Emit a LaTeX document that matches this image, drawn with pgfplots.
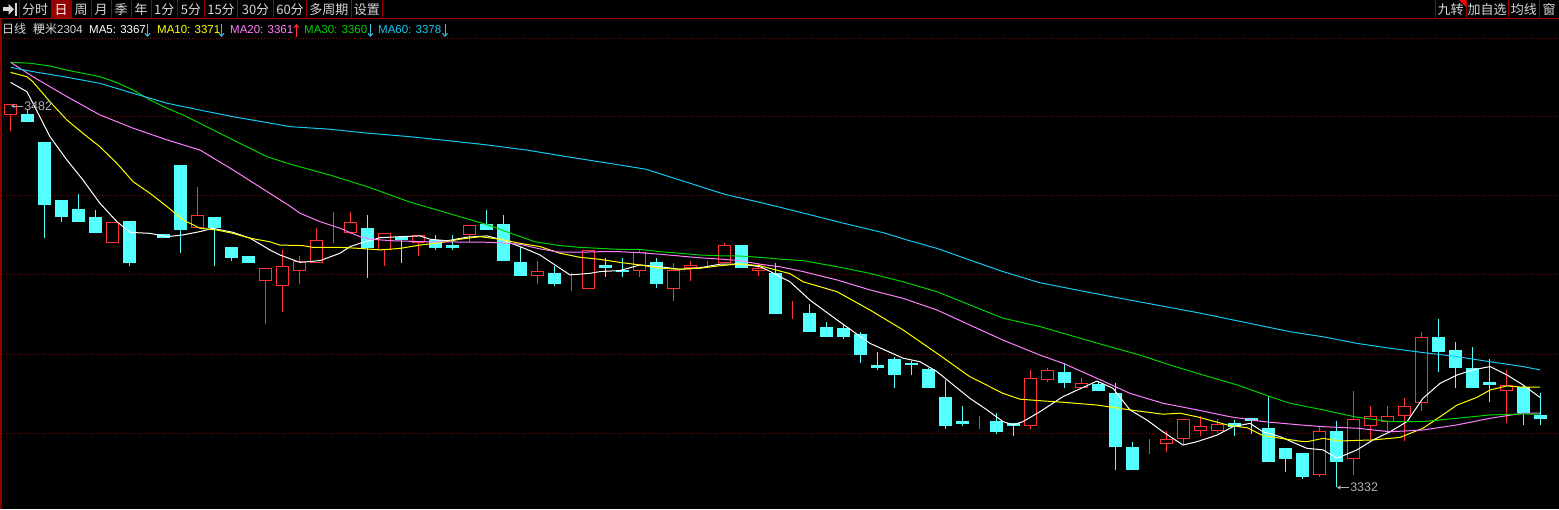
\documentclass[border=0pt]{standalone}
\usepackage{pgfplots}
\pgfplotsset{compat=1.18}
\usepackage{pgfplotstable}
\usetikzlibrary{arrows.meta}
\usepackage{fontspec}
\setmainfont{Liberation Sans}
\newfontfamily\cjk{Noto Sans CJK SC}
\definecolor{upred}{RGB}{255,50,50}
\definecolor{dncyan}{RGB}{84,255,255}
\definecolor{ma5c}{RGB}{255,255,255}
\definecolor{ma10c}{RGB}{255,255,0}
\definecolor{ma20c}{RGB}{255,128,255}
\definecolor{ma30c}{RGB}{0,210,0}
\definecolor{ma60c}{RGB}{20,200,240}
\definecolor{gridred}{RGB}{140,0,0}
\definecolor{btnred}{RGB}{150,0,0}
\definecolor{uigray}{RGB}{215,215,215}
\definecolor{arrowblue}{RGB}{60,190,230}
\definecolor{labgray}{RGB}{175,175,185}

% candles: index, open, high, low, close
\pgfplotstableread{
x open high low close
0 3478.3 3482.0 3471.9 3482.0
6 3428.1 3436.0 3428.1 3436.0
8 3434.8 3434.8 3434.8 3434.8
11 3433.8 3449.8 3433.8 3438.8
15 3413.2 3418.0 3396.1 3418.0
16 3411.1 3425.0 3400.9 3418.7
17 3417.1 3422.7 3411.8 3420.6
18 3420.2 3433.6 3420.2 3428.9
19 3429.5 3439.9 3427.9 3429.5
20 3432.0 3439.9 3431.2 3436.0
22 3425.1 3431.6 3418.9 3431.6
24 3427.9 3430.8 3422.8 3430.8
27 3431.1 3434.8 3428.1 3434.8
31 3415.0 3420.8 3411.8 3416.7
33 3411.6 3415.9 3409.1 3411.6
34 3410.0 3424.8 3410.0 3424.8
37 3416.9 3425.1 3414.4 3423.9
39 3410.0 3420.0 3405.2 3416.9
40 3418.1 3420.9 3413.0 3418.8
41 3420.8 3420.8 3418.1 3420.8
42 3420.1 3427.8 3420.1 3426.9
44 3416.9 3420.0 3415.0 3418.0
46 3400.6 3405.1 3398.1 3400.6
57 3356.6 3359.9 3354.9 3356.6
60 3356.3 3378.0 3354.9 3374.6
61 3374.2 3378.6 3373.1 3377.8
63 3371.0 3374.7 3371.0 3372.7
67 3345.7 3350.9 3345.1 3345.7
68 3349.0 3354.0 3345.9 3350.8
69 3351.1 3358.7 3348.5 3358.7
70 3354.3 3359.8 3352.2 3355.9
71 3354.3 3358.7 3353.2 3356.6
77 3336.9 3355.7 3336.1 3353.9
79 3343.3 3369.7 3336.9 3358.6
80 3356.3 3363.7 3350.8 3359.6
81 3357.9 3363.7 3354.0 3359.6
82 3360.2 3366.9 3350.0 3363.6
83 3365.3 3392.8 3362.0 3390.8
88 3370.0 3377.8 3357.0 3372.0
}\uptable

\pgfplotstableread{
x open high low close
1 3478.1 3480.0 3475.7 3475.7
2 3467.1 3467.1 3429.9 3442.9
3 3444.7 3444.7 3436.2 3438.1
4 3440.8 3447.1 3436.2 3436.2
5 3438.0 3440.8 3431.9 3431.9
7 3436.1 3436.1 3418.9 3420.1
9 3431.0 3431.0 3429.9 3429.9
10 3458.1 3458.1 3424.0 3433.0
12 3438.0 3438.0 3418.9 3433.8
13 3425.9 3425.9 3420.9 3422.1
14 3422.7 3422.7 3420.1 3420.1
21 3433.7 3438.8 3414.2 3426.0
23 3429.8 3429.8 3420.1 3429.3
25 3428.7 3431.0 3425.2 3426.0
26 3427.0 3431.0 3425.2 3426.0
28 3434.9 3440.8 3433.0 3433.0
29 3434.9 3438.8 3420.9 3420.9
30 3420.0 3426.4 3415.0 3415.0
32 3416.0 3418.8 3411.1 3411.8
35 3418.8 3421.9 3414.4 3418.1
36 3417.0 3421.9 3414.4 3416.6
38 3420.0 3421.9 3410.0 3411.8
43 3426.9 3426.9 3418.1 3418.1
45 3416.0 3420.0 3400.1 3400.1
47 3400.0 3403.9 3393.0 3393.0
48 3394.8 3396.8 3391.0 3391.0
49 3394.1 3395.9 3390.0 3391.0
50 3391.7 3392.9 3380.8 3384.0
51 3379.9 3384.9 3378.1 3378.9
52 3381.9 3383.0 3371.0 3376.1
53 3380.7 3381.6 3376.1 3380.0
54 3378.0 3378.7 3371.0 3371.0
55 3367.0 3374.0 3354.9 3356.1
56 3357.9 3363.8 3356.1 3356.9
58 3357.9 3361.1 3353.0 3354.0
59 3356.9 3356.9 3352.2 3356.1
62 3376.8 3380.6 3371.0 3373.0
64 3372.1 3373.8 3369.8 3369.8
65 3368.9 3372.7 3338.8 3347.9
66 3347.7 3349.6 3338.8 3338.8
72 3356.8 3358.2 3352.2 3355.7
73 3358.8 3358.8 3353.0 3358.1
74 3354.8 3367.6 3342.0 3342.0
75 3347.0 3347.0 3338.0 3343.1
76 3345.0 3345.0 3335.1 3336.1
78 3353.9 3357.8 3332.0 3342.0
84 3390.8 3397.9 3377.1 3385.2
85 3385.8 3388.8 3371.0 3378.9
86 3378.6 3386.9 3371.0 3371.0
87 3373.0 3382.2 3365.3 3372.4
89 3371.0 3372.1 3356.3 3361.2
90 3359.9 3368.8 3356.3 3358.8
}\dntable

\pgfplotstableread{
x y
0.0 3490.9
0.97 3487.2
1.32 3482.7
2.32 3469.6
3.32 3460.4
4.26 3452.6
5.26 3443.4
6.26 3436.2
7.03 3432.0
8.21 3431.6
9.21 3430.3
10.15 3431.0
11.15 3432.3
11.9 3433.6
13.09 3432.0
14.09 3429.7
15.26 3425.1
15.85 3423.1
17.03 3420.2
18.21 3420.9
19.38 3423.8
19.97 3426.4
20.56 3427.7
21.74 3429.9
22.91 3430.3
24.09 3430.6
24.68 3429.3
25.68 3428.7
26.85 3430.1
28.03 3430.6
28.97 3429.0
29.97 3426.4
30.56 3424.8
31.15 3423.1
32.32 3417.9
32.91 3415.3
34.09 3415.9
34.68 3416.6
35.85 3417.0
37.03 3419.2
38.21 3418.5
39.38 3417.5
40.56 3418.1
41.74 3419.5
42.91 3419.6
44.09 3418.5
44.68 3416.7
45.26 3414.6
45.85 3412.6
47.03 3405.4
48.62 3397.6
50.56 3388.4
52.5 3382.6
53.5 3381.2
54.5 3377.3
56.44 3366.8
57.44 3362.3
58.38 3357.7
58.97 3356.4
59.56 3357.7
60.56 3361.6
61.91 3367.5
63.91 3373.6
64.85 3370.8
65.85 3362.3
66.85 3358.3
67.79 3353.7
68.97 3348.5
69.79 3349.8
70.97 3352.4
71.91 3355.7
72.91 3357.0
73.68 3353.7
74.68 3351.8
75.26 3350.1
76.26 3347.2
77.21 3346.6
78.03 3343.3
79.21 3346.6
80.15 3350.5
81.15 3353.7
82.15 3357.7
83.09 3366.9
84.09 3372.7
85.09 3376.0
86.03 3378.0
87.03 3379.3
88.03 3376.0
88.97 3372.1
89.97 3367.2
}\mafive

\pgfplotstableread{
x y
0 3494.8
0.97 3493.1
1.32 3491.1
2.32 3483.3
3.32 3476.1
4.26 3470.9
5.26 3465.6
6.26 3459.1
7.21 3451.9
8.21 3447.3
9.21 3442.1
10.15 3436.9
11.15 3433.6
12.15 3432.9
13.09 3431.6
14.09 3429.7
15.26 3428.3
15.85 3427.0
17.21 3426.8
17.79 3426.1
19.38 3426.1
20.56 3425.7
21.74 3425.1
22.91 3425.7
24.09 3427.0
25.26 3427.9
26.44 3429.3
27.62 3430.3
28.79 3429.3
29.97 3427.7
31.15 3426.4
32.32 3423.8
33.5 3422.2
34.68 3421.4
35.85 3420.2
37.03 3419.2
38.21 3417.9
39.38 3417.5
40.56 3417.9
41.74 3418.9
42.91 3419.6
44.09 3418.9
45.26 3416.8
45.85 3415.8
46.62 3412.6
48.62 3408.7
50.56 3401.5
52.5 3393.7
54.5 3384.5
56.44 3375.3
58.38 3368.8
59.38 3366.5
60.56 3365.9
61.91 3365.3
63.91 3364.2
65.85 3362.3
67.79 3360.6
68.79 3361.0
69.79 3359.6
71.74 3356.1
72.74 3355.3
73.68 3352.2
75.85 3350.0
76.26 3349.8
77.21 3351.1
78.21 3350.1
80.15 3350.5
81.74 3351.5
83.09 3355.1
84.09 3359.6
85.09 3364.2
86.26 3367.2
87.03 3370.1
88.03 3371.7
88.97 3371.2
89.97 3371.2
}\maten

\pgfplotstableread{
x y
0 3498.8
1.32 3493.1
3.32 3485.3
5.26 3478.1
7.21 3472.9
9.21 3468.3
11.15 3464.3
13.09 3456.5
15.26 3447.3
16.44 3442.3
17.03 3439.5
18.21 3436.2
19.38 3433.6
20.56 3430.3
21.15 3429.3
22.5 3428.7
24.5 3428.3
26.44 3428.2
27.62 3428.2
28.79 3427.9
29.97 3427.3
31.15 3425.5
32.32 3424.2
33.5 3424.2
34.68 3424.4
35.85 3424.4
37.03 3424.0
38.21 3423.4
39.38 3422.7
40.56 3422.0
41.74 3421.5
42.91 3420.9
44.09 3419.5
45.26 3418.5
46.62 3416.6
48.62 3413.3
50.56 3409.4
52.5 3406.1
54.5 3401.5
56.44 3395.6
58.38 3389.7
60.56 3383.8
61.91 3380.6
63.91 3374.7
65.85 3368.8
67.79 3364.9
69.79 3362.3
71.74 3359.6
73.68 3357.7
75.85 3356.4
77.21 3355.7
79.21 3355.1
81.15 3353.7
83.09 3354.4
85.09 3356.4
87.03 3359.0
88.97 3361.0
89.97 3361.0
}\matwenty

\pgfplotstableread{
x y
0 3498.8
1.15 3498.4
2.32 3497.3
3.32 3495.7
5.26 3493.1
6.26 3490.8
7.21 3487.9
8.21 3484.0
9.21 3480.7
10.15 3478.1
11.15 3474.8
13.09 3468.3
15.09 3461.7
16.44 3458.8
18.79 3454.5
21.09 3449.7
23.44 3444.0
25.74 3439.5
28.09 3434.9
29.44 3431.6
30.85 3428.3
32.32 3426.8
33.5 3426.1
34.68 3425.7
35.85 3425.3
37.03 3425.3
38.21 3424.4
39.38 3423.8
40.56 3423.1
41.74 3422.8
42.91 3422.7
44.09 3422.2
45.26 3421.5
46.62 3420.9
48.62 3418.5
50.56 3415.9
52.5 3412.6
54.5 3408.7
56.44 3403.5
58.38 3398.3
60.56 3395.0
63.5 3389.3
66.44 3383.8
68.21 3379.9
70.15 3376.0
72.15 3372.1
74.09 3367.5
75.26 3364.9
77.21 3362.3
79.21 3359.4
81.15 3357.7
83.09 3357.7
85.09 3359.0
87.03 3360.3
88.97 3360.7
89.97 3360.6
}\mathirty

\pgfplotstableread{
x y
0 3496.8
1.32 3495.1
3.32 3492.9
5.26 3490.5
7.21 3486.6
9.21 3482.7
11.15 3480.0
13.09 3477.4
15.09 3475.1
16.44 3473.5
18.76 3472.5
21.09 3470.9
23.42 3469.6
25.74 3468.0
28.06 3466.3
30.38 3464.3
32.72 3461.7
35.03 3459.3
37.36 3456.8
39.68 3451.9
42.02 3446.9
44.32 3443.4
46.68 3439.5
48.99 3435.6
51.32 3431.9
52.74 3429.0
54.5 3425.7
56.44 3421.1
58.38 3416.6
60.56 3412.2
64.09 3407.6
69.97 3400.3
75.26 3393.0
77.21 3391.0
79.21 3388.4
81.15 3386.5
83.09 3384.8
85.09 3383.2
87.03 3381.2
88.97 3379.3
89.97 3378.0
}\masixty

\pgfplotsset{
  base/.style={width=1559pt, height=509pt, scale only axis,
    at={(0pt,0pt)}, anchor=south west,
    xmin=-0.617647, xmax=91.088235, ymin=3323.382, ymax=3523.225},
  wick/.style={draw=none, mark=none, forget plot,
    error bars/.cd, y dir=plus, y explicit, error mark=none,
    error bar style={draw=#1, line width=1pt, solid}},
}

\begin{document}
\begin{tikzpicture}
\fill[black] (0,0) rectangle (1559pt,509pt);

% ---- axis 1: grid lines and wicks
\begin{axis}[base, axis line style={draw=none}, xtick=\empty,
  ytick={3353.2,3384.2,3415.3,3446.3,3477.3,3508.3}, yticklabels={},
  major tick length=0pt, ymajorgrids,
  grid style={gridred, line width=1pt, dash pattern=on 1pt off 2pt}]
\addplot[wick=upred] table[x=x, y=low, y error expr=\thisrow{high}-\thisrow{low}] {\uptable};
\addplot[wick=dncyan] table[x=x, y=low, y error expr=\thisrow{high}-\thisrow{low}] {\dntable};
\end{axis}

% ---- axis 2: rising (hollow red) bodies
\begin{axis}[base, hide axis, ybar stacked, bar width=12pt]
\addplot[draw=none, fill=none] table[x=x, y expr={min(\thisrow{open},\thisrow{close})}] {\uptable};
\addplot[draw=upred, fill=black, line width=1pt] table[x=x, y expr={abs(\thisrow{close}-\thisrow{open})}] {\uptable};
\end{axis}

% ---- axis 3: falling (cyan) bodies
\begin{axis}[base, hide axis, ybar stacked, bar width=12pt]
\addplot[draw=none, fill=none] table[x=x, y expr={min(\thisrow{open},\thisrow{close})}] {\dntable};
\addplot[draw=dncyan, fill=dncyan, line width=1pt] table[x=x, y expr={abs(\thisrow{close}-\thisrow{open})}] {\dntable};
\end{axis}

% ---- axis 4: moving averages and extreme labels
\begin{axis}[base, hide axis, clip=false]
\addplot[ma5c, line width=1pt, mark=none] table {\mafive};
\addplot[ma10c, line width=1pt, mark=none] table {\maten};
\addplot[ma20c, line width=1pt, mark=none] table {\matwenty};
\addplot[ma30c, line width=1pt, mark=none] table {\mathirty};
\addplot[ma60c, line width=1pt, mark=none] table {\masixty};
\draw[labgray, line width=0.8pt, -{Stealth[length=4pt,width=4pt]}] (axis cs:0.76,3481.6) -- (axis cs:0.02,3481.6);
\node[anchor=west, inner sep=0pt, text=labgray, font=\fontsize{12.5}{13}\selectfont] at (axis cs:0.80,3481.6) {3482};
\draw[labgray, line width=0.8pt, -{Stealth[length=4pt,width=4pt]}] (axis cs:78.76,3331.8) -- (axis cs:78.02,3331.8);
\node[anchor=west, inner sep=0pt, text=labgray, font=\fontsize{12.5}{13}\selectfont] at (axis cs:78.80,3331.8) {3332};
\end{axis}

% ---- toolbar
\fill[btnred] (51pt,490pt) rectangle (71pt,509pt);
\draw[btnred, line width=1pt] (0pt,490pt) -- (1559pt,490pt);
\foreach \xx in {19.5,51,71,91,111,131,151,177.7,204.3,237.7,273.3,306.7,351,382.7,1435,1466,1508.3,1539.3}
  \draw[btnred, line width=1pt] (\xx pt,490pt) -- (\xx pt,509pt);
\fill[red] (1459pt,509pt) -- (1466pt,509pt) -- (1466pt,502pt) -- cycle;
\draw[gridred, line width=2pt] (1pt,0pt) -- (1pt,490pt);
% icon
\fill[uigray] (3pt,497.5pt) rectangle (9pt,501.5pt);
\fill[uigray] (8.5pt,505pt) -- (14pt,499.5pt) -- (8.5pt,494pt) -- cycle;
\fill[uigray] (14.5pt,493pt) rectangle (16.5pt,506pt);

\begin{scope}[every node/.style={inner sep=0pt, anchor=center, text=uigray, font=\cjk\fontsize{13}{14}\selectfont}]
\node at (35.2pt,499.5pt) {分时};
\node[text=white] at (61pt,499.5pt) {日};
\node at (81pt,499.5pt) {周};
\node at (101pt,499.5pt) {月};
\node at (121pt,499.5pt) {季};
\node at (141pt,499.5pt) {年};
\node at (164.3pt,499.5pt) {1分};
\node at (191pt,499.5pt) {5分};
\node at (221pt,499.5pt) {15分};
\node at (255.5pt,499.5pt) {30分};
\node at (290pt,499.5pt) {60分};
\node at (328.8pt,499.5pt) {多周期};
\node at (366.8pt,499.5pt) {设置};
\node at (1450.5pt,499.5pt) {九转};
\node at (1487.2pt,499.5pt) {加自选};
\node at (1523.8pt,499.5pt) {均线};
\node at (1549.2pt,499.5pt) {窗};
\end{scope}

% ---- legend line
\begin{scope}[every node/.style={inner sep=0pt, anchor=base west, font=\fontsize{11.5}{12}\selectfont}]
\node[text=uigray, font=\cjk\fontsize{12}{13}\selectfont] at (2pt,475.5pt) {日线};
\node[text=uigray] at (33pt,475.5pt) {{\cjk\fontsize{12}{13}\selectfont 粳米}2304};
\node[text=ma5c] at (89pt,475.5pt) {MA5: 3367};
\node[text=ma10c] at (157pt,475.5pt) {MA10: 3371};
\node[text=ma20c] at (230pt,475.5pt) {MA20: 3361};
\node[text=ma30c] at (304pt,475.5pt) {MA30: 3360};
\node[text=ma60c] at (378pt,475.5pt) {MA60: 3378};
\end{scope}
\foreach \xx in {147.5,221.5,370.5,445}
  \draw[arrowblue, line width=1pt, -{Straight Barb[length=3pt,width=5pt,line width=1pt]}] (\xx pt,485pt) -- (\xx pt,472pt);
\draw[upred, line width=1pt, -{Straight Barb[length=3pt,width=5pt,line width=1pt]}] (296.5pt,472pt) -- (296.5pt,485pt);

\pgfresetboundingbox
\useasboundingbox (0,0) rectangle (1559pt,509pt);
\end{tikzpicture}
\end{document}
